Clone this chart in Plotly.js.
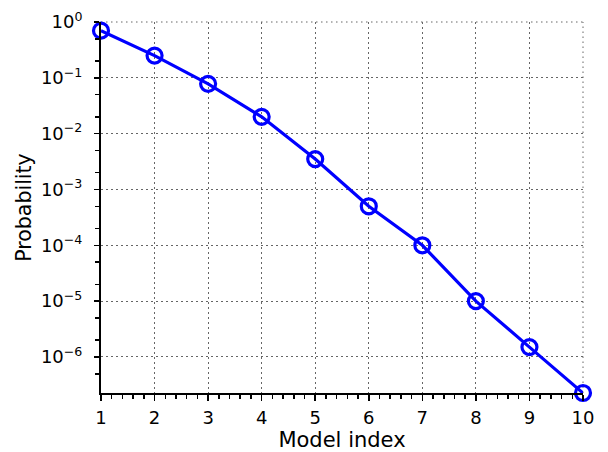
<!DOCTYPE html>
<html>
<head>
<meta charset="utf-8">
<script src="https://cdn.plot.ly/plotly-3.0.1.min.js"></script>
<style>html,body{margin:0;padding:0;background:#fff;}#chart{width:608px;height:452px;}</style>
</head>
<body>
<div id="chart"></div>
<script>
const modelIndex = [1, 2, 3, 4, 5, 6, 7, 8, 9, 10];
const probability = [0.70, 0.25, 0.078, 0.020, 0.0035, 0.0005, 0.0001, 0.00001, 0.0000015, 0.000000226];
const yTickVals = [1, 1e-1, 1e-2, 1e-3, 1e-4, 1e-5, 1e-6];
const yTickText = ['10<sup>0</sup>', '10<sup>−1</sup>', '10<sup>−2</sup>', '10<sup>−3</sup>', '10<sup>−4</sup>', '10<sup>−5</sup>', '10<sup>−6</sup>'];
const xTickVals = [1, 2, 3, 4, 5, 6, 7, 8, 9, 10];

const fam = 'DejaVu Sans, sans-serif';
const tickFont = {family: fam, size: 18, color: '#000'};
const titleFont = {family: fam, size: 20.5, color: '#000'};
const gridDash = '1.5px,3.5px';

const trace = {
  x: modelIndex,
  y: probability,
  type: 'scatter',
  mode: 'lines+markers',
  line: {color: '#0000ff', width: 3.2},
  marker: {symbol: 'circle-open', size: 15, color: '#0000ff', line: {width: 3.2, color: '#0000ff'}},
  cliponaxis: false,
  hoverinfo: 'none'
};

const layout = {
  width: 608, height: 452,
  margin: {l: 101, r: 25, t: 22, b: 59},
  paper_bgcolor: '#fff', plot_bgcolor: '#fff',
  font: tickFont,
  showlegend: false,
  xaxis: {
    range: [1, 10],
    tickvals: xTickVals,
    ticks: 'outside', ticklen: 6, tickwidth: 1.5, tickcolor: '#000',
    ticklabelstandoff: 1,
    showline: true, linecolor: '#000', linewidth: 2,
    showgrid: true, gridcolor: '#666', griddash: gridDash, gridwidth: 1,
    zeroline: false,
    minor: {dtick: 0.2, ticks: 'outside', ticklen: 4, tickwidth: 1.5, tickcolor: '#000', showgrid: false},
    tickfont: tickFont,
    title: {text: 'Model index', font: {family: fam, size: 21, color: '#000'}, standoff: 2}
  },
  yaxis: {
    type: 'log',
    range: [Math.log10(2.26e-7), 0],
    tickvals: yTickVals, ticktext: yTickText,
    ticks: 'outside', ticklen: 5, tickwidth: 1.5, tickcolor: '#000',
    ticklabelstandoff: 8,
    showline: true, linecolor: '#000', linewidth: 2,
    showgrid: true, gridcolor: '#666', griddash: gridDash, gridwidth: 1,
    zeroline: false,
    minor: {ticks: 'outside', ticklen: 4, tickwidth: 1.5, tickcolor: '#000', showgrid: false},
    tickfont: tickFont,
    title: {text: 'Probability', font: titleFont, standoff: 4}
  },
  shapes: [
    {type: 'line', xref: 'paper', yref: 'paper', x0: 0, x1: 1, y0: 1, y1: 1, line: {color: '#666', width: 1, dash: gridDash}, layer: 'below'},
    {type: 'line', xref: 'paper', yref: 'paper', x0: 1, x1: 1, y0: 0, y1: 1, line: {color: '#666', width: 1, dash: gridDash}, layer: 'below'}
  ]
};

Plotly.newPlot('chart', [trace], layout, {staticPlot: true, displayModeBar: false});
</script>
</body>
</html>
